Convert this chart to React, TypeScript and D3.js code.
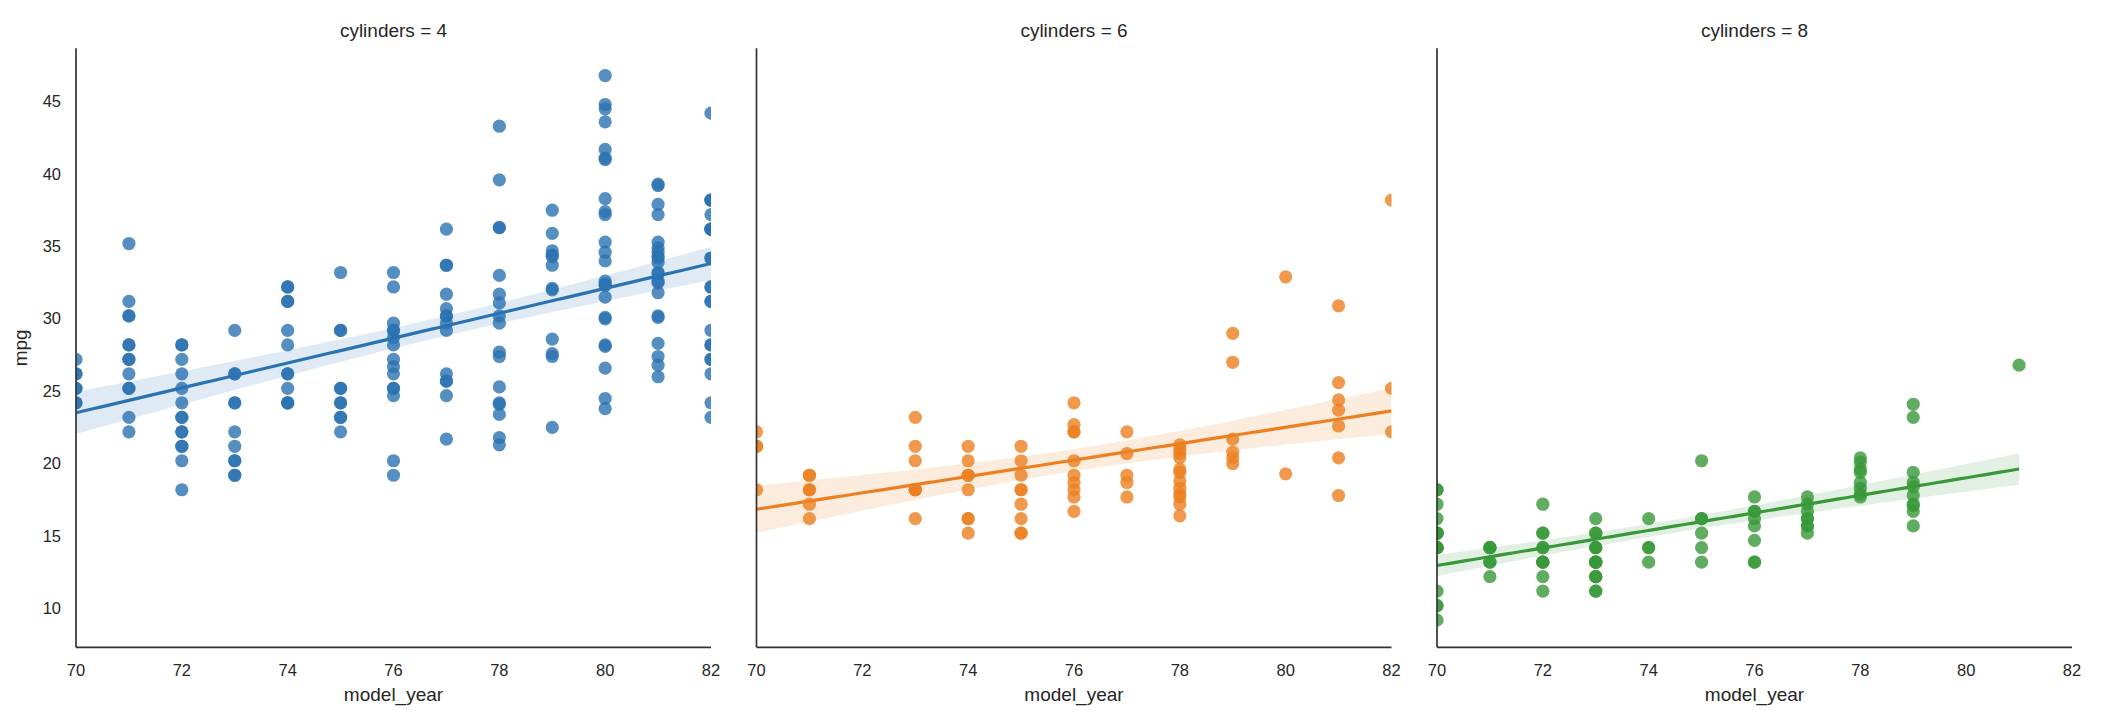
import React from "react";
import * as d3 from "d3";

// ---- data: [model_year, mpg values] ----
const cylinders = [4, 6, 8];

const mpg4: [number, number[]][] = [
  [70, [24, 27, 26, 25, 24, 25, 26]],
  [71, [35, 31, 30, 30, 28, 28, 27, 27, 26, 25, 25, 23, 22]],
  [72, [28, 28, 27, 26, 25, 24, 23, 23, 22, 22, 21, 21, 20, 18]],
  [73, [29, 26, 26, 24, 24, 22, 21, 20, 20, 19, 19]],
  [74, [32, 32, 31, 31, 29, 28, 26, 26, 25, 24, 24, 24]],
  [75, [33, 29, 29, 25, 25, 24, 24, 23, 23, 22]],
  [76, [33, 32, 29.5, 29, 29, 28.5, 28, 27, 26.5, 26, 25, 25, 24.5, 20, 19]],
  [77, [36, 33.5, 33.5, 31.5, 30.5, 30, 30, 29.5, 29, 26, 25.5, 25.5, 24.5, 21.5]],
  [78, [43.1, 39.4, 36.1, 36.1, 32.8, 31.5, 30.9, 30, 29.5, 27.5, 27.2, 25.1, 24, 23.9, 23.2, 21.6, 21.1]],
  [79, [37.3, 35.7, 34.5, 34.2, 34.1, 33.5, 31.9, 31.8, 28.4, 27.4, 27.2, 22.3]],
  [80, [46.6, 44.6, 44.3, 43.4, 41.5, 40.9, 40.8, 38.1, 37.2, 37.0, 35.1, 34.4, 33.8, 32.4, 32.2, 32.1, 31.3, 29.9, 29.8, 28, 27.9, 26.4, 24.3, 23.6]],
  [81, [39.1, 39.0, 37.7, 37.0, 35.1, 34.7, 34.4, 34.1, 34.0, 33.7, 33.0, 32.9, 32.4, 32.3, 31.6, 30.0, 29.9, 28.1, 27.2, 26.6, 25.8]],
  [82, [44, 38, 38, 38, 37, 36, 36, 36, 36, 34, 34, 32, 32, 31, 31, 29, 28, 28, 27, 27, 26, 24, 23]],
];

const mpg6: [number, number[]][] = [
  [70, [22, 21, 21, 18]],
  [71, [19, 19, 18, 18, 17, 16]],
  [73, [23, 21, 20, 18, 18, 18, 16]],
  [74, [21, 20, 19, 19, 18, 16, 16, 15]],
  [75, [21, 20, 19, 18, 18, 17, 16, 15, 15]],
  [76, [24, 22.5, 22, 22, 20, 19, 18.5, 18, 17.5, 16.5]],
  [77, [22, 20.5, 19, 18.5, 17.5]],
  [78, [21.1, 20.8, 20.5, 20.2, 19.4, 19.2, 18.6, 18.1, 17.7, 17.5, 17.0, 16.2]],
  [79, [28.8, 26.8, 21.5, 20.6, 20.2, 19.8]],
  [80, [32.7, 19.1]],
  [81, [30.7, 25.4, 24.2, 23.5, 22.4, 20.2, 17.6]],
  [82, [38, 25, 22]],
];

const mpg8: [number, number[]][] = [
  [70, [18, 15, 18, 16, 17, 15, 14, 14, 14, 15, 15, 14, 15, 14, 10, 10, 11, 9]],
  [71, [14, 14, 14, 14, 13, 13, 12]],
  [72, [17, 15, 15, 14, 14, 13, 13, 13, 12, 11]],
  [73, [16, 15, 15, 14, 14, 14, 13, 13, 13, 13, 13, 12, 12, 12, 11, 11]],
  [74, [16, 14, 14, 13]],
  [75, [20, 16, 16, 15, 14, 13]],
  [76, [17.5, 16.5, 16.5, 16, 15.5, 14.5, 13, 13]],
  [77, [17.5, 17, 16.5, 16, 16, 15.5, 15.5, 15]],
  [78, [20.2, 19.9, 19.4, 19.2, 18.5, 18.1, 17.7, 17.5]],
  [79, [23.9, 23.0, 19.2, 18.5, 18.2, 17.6, 17.0, 16.9, 16.5, 15.5]],
  [81, [26.6]],
];

const xTicks = [70, 72, 74, 76, 78, 80, 82];
const yTicks = [10, 15, 20, 25, 30, 35, 40, 45];
const xDomain = [70, 82];

// ---- styles / layout ----
const colors = ["#2a72b2", "#ec7f20", "#38983a"];
const W = 2104;
const H = 726;
const plotTop = 48.3;
const plotBottom = 647.3;
const firstLeft = 76;
const panelW = 635;
const panelStep = 680.5;
const FONT = "'Liberation Sans', Arial, Helvetica, sans-serif";
const TEXT = "#262626";
const SPINE = "#333333";

type Pt = [number, number];

function flatten(groups: [number, number[]][]): Pt[] {
  return groups.flatMap(([yr, vals]) => vals.map((v) => [yr, v] as Pt));
}

function regress(pts: Pt[]) {
  const n = pts.length;
  const mx = d3.mean(pts, (p) => p[0]) as number;
  const my = d3.mean(pts, (p) => p[1]) as number;
  let sxx = 0;
  let sxy = 0;
  for (const [x, y] of pts) {
    sxx += (x - mx) * (x - mx);
    sxy += (x - mx) * (y - my);
  }
  const b = sxy / sxx;
  const a = my - b * mx;
  let sse = 0;
  for (const [x, y] of pts) sse += (y - (a + b * x)) ** 2;
  const s = Math.sqrt(sse / (n - 2));
  const [x0, x1] = d3.extent(pts, (p) => p[0]) as [number, number];
  const grid = d3.range(0, 101).map((i) => x0 + ((x1 - x0) * i) / 100);
  const t = 1.97;
  return grid.map((x) => {
    const yh = a + b * x;
    const se = s * Math.sqrt(1 / n + ((x - mx) * (x - mx)) / sxx);
    return { x, y: yh, lo: yh - t * se, hi: yh + t * se };
  });
}

export default function App() {
  const series = [mpg4, mpg6, mpg8].map(flatten);
  const all = series.flat();
  const [ymin, ymax] = d3.extent(all, (d) => d[1]) as [number, number];
  const pad = (ymax - ymin) * 0.05;
  const y = d3.scaleLinear().domain([ymin - pad, ymax + pad]).range([plotBottom, plotTop]);

  return (
    <svg
      width={W}
      height={H}
      viewBox={`0 0 ${W} ${H}`}
      style={{ position: "absolute", left: 0, top: 0, display: "block", background: "#fff" }}
      fontFamily={FONT}
    >
      <rect x={0} y={0} width={W} height={H} fill="#fff" />
      <defs>
        {cylinders.map((c, i) => {
          const left = firstLeft + i * panelStep;
          return (
            <clipPath id={`clip${i}`} key={c}>
              <rect x={left} y={plotTop} width={panelW} height={plotBottom - plotTop} />
            </clipPath>
          );
        })}
      </defs>
      {cylinders.map((c, i) => {
        const left = firstLeft + i * panelStep;
        const x = d3.scaleLinear().domain(xDomain).range([left, left + panelW]);
        const pts = series[i];
        const fit = regress(pts);
        const area = d3
          .area<{ x: number; lo: number; hi: number }>()
          .x((d) => x(d.x))
          .y0((d) => y(d.lo))
          .y1((d) => y(d.hi));
        const line = d3
          .line<{ x: number; y: number }>()
          .x((d) => x(d.x))
          .y((d) => y(d.y));
        const color = colors[i];
        const cx = left + panelW / 2;
        return (
          <g key={c}>
            <g clipPath={`url(#clip${i})`}>
              {pts.map((p, j) => (
                <circle key={j} cx={x(p[0])} cy={y(p[1])} r={6.6} fill={color} fillOpacity={0.8} />
              ))}
              <path d={area(fit) || ""} fill={color} fillOpacity={0.15} stroke="none" />
              <path d={line(fit) || ""} fill="none" stroke={color} strokeWidth={3.2} />
            </g>
            {/* spines */}
            <line x1={left} x2={left} y1={plotTop} y2={plotBottom} stroke={SPINE} strokeWidth={1.7} />
            <line x1={left} x2={left + panelW} y1={plotBottom} y2={plotBottom} stroke={SPINE} strokeWidth={1.7} />
            {/* x ticks */}
            {xTicks.map((t) => (
              <text key={t} x={x(t)} y={675.5} textAnchor="middle" fontSize={16.5} fill={TEXT}>
                {t}
              </text>
            ))}
            <text x={cx} y={701} textAnchor="middle" fontSize={19} fill={TEXT}>
              model_year
            </text>
            <text x={cx} y={37} textAnchor="middle" fontSize={19} fill={TEXT}>
              {`cylinders = ${c}`}
            </text>
            {i === 0 &&
              yTicks.map((t) => (
                <text key={t} x={left - 15} y={y(t) + 8.4} textAnchor="end" fontSize={16.5} fill={TEXT}>
                  {t}
                </text>
              ))}
            {i === 0 && (
              <text
                transform={`translate(27, ${(plotTop + plotBottom) / 2}) rotate(-90)`}
                textAnchor="middle"
                fontSize={19}
                fill={TEXT}
              >
                mpg
              </text>
            )}
          </g>
        );
      })}
    </svg>
  );
}
